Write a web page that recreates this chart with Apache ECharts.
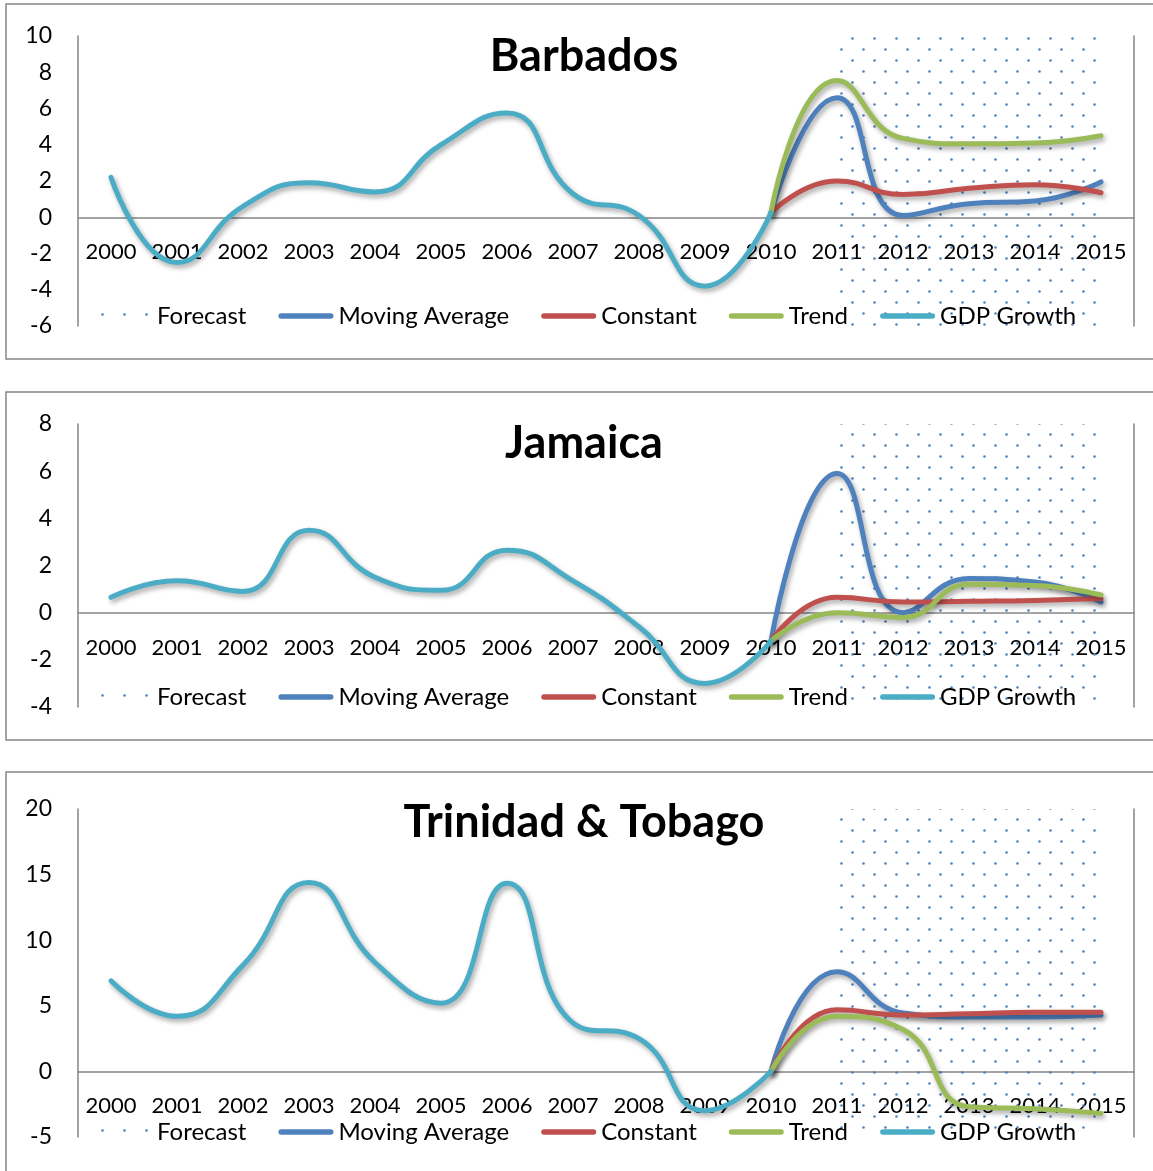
<!DOCTYPE html>
<html>
<head>
<meta charset="utf-8">
<script src="https://cdn.jsdelivr.net/npm/echarts@6/dist/echarts.min.js"></script>
<style>
html,body{margin:0;padding:0;background:#fff;}
#chart{width:1153px;height:1171px;}
</style>
</head>
<body>
<div id="chart"></div>
<script>
var years = ['2000','2001','2002','2003','2004','2005','2006','2007','2008','2009','2010','2011','2012','2013','2014','2015'];
var seriesNames = ['Forecast','Moving Average','Constant','Trend','GDP Growth'];
var titles = ['Barbados','Jamaica','Trinidad & Tobago'];

var N = null;
// Barbados
var bbForecast = [N,N,N,N,N,N,N,N,N,N,N,10,10,10,10,10];
var bbMA    = [N,N,N,N,N,N,N,N,N,N,0.25,6.6,0.1,0.75,0.9,1.95];
var bbConst = [N,N,N,N,N,N,N,N,N,N,0.25,2.0,1.25,1.6,1.8,1.35];
var bbTrend = [N,N,N,N,N,N,N,N,N,N,0.25,7.55,4.35,4.05,4.1,4.5];
var bbGDP   = [2.2,-2.5,0.6,1.9,1.4,4.0,5.75,1.3,0.1,-3.8,0.25,N,N,N,N,N];
// Jamaica
var jmForecast = [N,N,N,N,N,N,N,N,N,N,N,8,8,8,8,8];
var jmMA    = [N,N,N,N,N,N,N,N,N,N,-1.2,5.9,0.0,1.45,1.3,0.45];
var jmConst = [N,N,N,N,N,N,N,N,N,N,-1.2,0.65,0.45,0.48,0.52,0.6];
var jmTrend = [N,N,N,N,N,N,N,N,N,N,-1.2,0.0,-0.2,1.2,1.15,0.75];
var jmGDP   = [0.65,1.35,0.9,3.5,1.5,0.95,2.65,1.35,-0.6,-3.0,-1.2,N,N,N,N,N];
// Trinidad & Tobago
var ttForecast = [N,N,N,N,N,N,N,N,N,N,N,20,20,20,20,20];
var ttMA    = [N,N,N,N,N,N,N,N,N,N,0.0,7.6,4.45,4.15,4.15,4.3];
var ttConst = [N,N,N,N,N,N,N,N,N,N,0.0,4.7,4.3,4.4,4.5,4.5];
var ttTrend = [N,N,N,N,N,N,N,N,N,N,0.0,4.2,3.2,-2.7,-2.85,-3.2];
var ttGDP   = [6.9,4.2,8.1,14.4,8.3,5.2,14.35,3.7,2.5,-3.0,0.0,N,N,N,N,N];

var yMin = [-6,-4,-5];
var yMax = [10,8,20];
var yInterval = [2,2,5];

var panelData = [
  [bbForecast,bbMA,bbConst,bbTrend,bbGDP],
  [jmForecast,jmMA,jmConst,jmTrend,jmGDP],
  [ttForecast,ttMA,ttConst,ttTrend,ttGDP]
];

var colors = {'Moving Average':'#4f81bd','Constant':'#c0504d','Trend':'#9bbb59','GDP Growth':'#4bacc6'};

// dotted pattern
var pc = document.createElement('canvas');
pc.width = 22; pc.height = 22;
var ctx = pc.getContext('2d');
ctx.fillStyle = '#4f81bd';
ctx.beginPath(); ctx.arc(5.5,5.5,1.3,0,Math.PI*2); ctx.fill();
ctx.beginPath(); ctx.arc(16.5,16.5,1.3,0,Math.PI*2); ctx.fill();
var dotPattern = {image: pc, repeat: 'repeat'};

var lineIcon = 'path://M5,0 H95 A5,5 0 0 1 95,10 H5 A5,5 0 0 1 5,0 Z';

var FONT = 'Lato';
var layout = [
  {top:36, height:290, titleY:30, legendTop:304, box:[6,4,1170,355]},
  {top:424, height:283, titleY:417, legendTop:685, box:[6,392,1170,348]},
  {top:809, height:328, titleY:796, legendTop:1120, box:[6,772,1170,420]}
];

var option = {
  backgroundColor:'#fff',
  animation:false,
  title:[], legend:[], grid:[], xAxis:[], yAxis:[], series:[],
  graphic:[]
};

layout.forEach(function(L,i){
  var zeroOffset = -L.height * (0 - yMin[i]) / (yMax[i] - yMin[i]);
  option.graphic.push({type:'rect', shape:{x:L.box[0],y:L.box[1],width:L.box[2],height:L.box[3]},
    style:{fill:'none', stroke:'#868686', lineWidth:1.5}, z:-10});
  option.title.push({text:titles[i], left:584, textAlign:'center', top:L.titleY, padding:0,
    textStyle:{fontFamily:FONT, fontWeight:'bold', fontSize:45, color:'#000', lineHeight:52}});
  option.grid.push({left:78, right:19, top:L.top, height:L.height});
  option.xAxis.push({type:'category', gridIndex:i, data:years, boundaryGap:true,
    offset: zeroOffset,
    axisLine:{onZero:false, lineStyle:{color:'#868686', width:1.5}},
    axisTick:{show:false},
    axisLabel:{fontFamily:FONT, fontSize:22, color:'#000', margin:24, interval:0},
    splitLine:{show:false}});
  option.yAxis.push({type:'value', gridIndex:i, min:yMin[i], max:yMax[i], interval:yInterval[i],
    axisLine:{show:true, lineStyle:{color:'#868686', width:1.5}},
    axisTick:{show:false}, splitLine:{show:false},
    axisLabel:{fontFamily:FONT, fontSize:23, color:'#000', margin:26}});
  option.yAxis.push({type:'value', gridIndex:i, position:'right', min:yMin[i], max:yMax[i], interval:yInterval[i],
    axisLine:{show:true, lineStyle:{color:'#868686', width:1.5}},
    axisTick:{show:false}, splitLine:{show:false}, axisLabel:{show:false}});
  option.legend.push({top:L.legendTop, left:97, itemGap:32, itemWidth:55, itemHeight:14, padding:0,
    textStyle:{fontFamily:FONT, fontSize:24, color:'#000'},
    data:[
      {name:'Forecast', icon:'rect', itemStyle:{color:dotPattern}},
      {name:'Moving Average', icon:lineIcon, itemStyle:{color:colors['Moving Average']}},
      {name:'Constant', icon:lineIcon, itemStyle:{color:colors['Constant']}},
      {name:'Trend', icon:lineIcon, itemStyle:{color:colors['Trend']}},
      {name:'GDP Growth', icon:lineIcon, itemStyle:{color:colors['GDP Growth']}}
    ]});
  var d = panelData[i];
  option.series.push({name:'Forecast', type:'line', xAxisIndex:i, yAxisIndex:2*i, data:d[0],
    showSymbol:false, symbol:'none', lineStyle:{width:0, opacity:0},
    areaStyle:{color:dotPattern, origin:'start', opacity:1}, z:1, silent:true});
  ['Moving Average','Constant','Trend','GDP Growth'].forEach(function(nm,k){
    option.series.push({name:nm, type:'line', xAxisIndex:i, yAxisIndex:2*i, data:d[k+1],
      smooth:0.5, symbol:'none', showSymbol:false, connectNulls:false,
      itemStyle:{color:colors[nm]},
      lineStyle:{color:colors[nm], width:5, cap:'round',
        shadowColor:'rgba(0,0,0,0.35)', shadowBlur:5, shadowOffsetX:2, shadowOffsetY:3},
      z:2+k});
  });
});

var chart = echarts.init(document.getElementById('chart'));
chart.setOption(option);
</script>
</body>
</html>
